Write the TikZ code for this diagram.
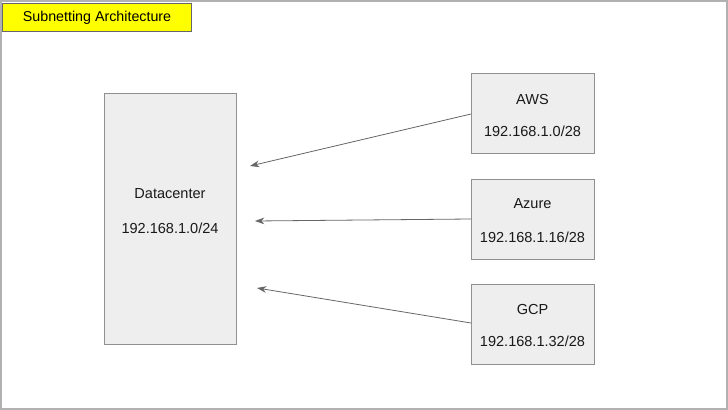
\documentclass[tikz,border=0pt]{standalone}
\usepackage{fontspec}
\setmainfont{Liberation Sans}
\usetikzlibrary{arrows.meta}
\definecolor{boxfill}{HTML}{EEEEEE}
\definecolor{boxline}{HTML}{909090}
\definecolor{titlefill}{HTML}{FFFF00}
\definecolor{arrowc}{HTML}{666666}
\tikzset{
  px/.style={x=0.75pt,y=-0.75pt},
  netbox/.style={draw=boxline,fill=boxfill,line width=0.8pt,inner sep=0pt,anchor=north west},
  lbl/.style={font=\fontsize{10.9}{13}\selectfont,inner sep=0pt,text=black!90},
  link/.style={draw=arrowc,line width=0.6pt,-{Stealth[length=7pt,width=5pt]}}
}
\begin{document}
\begin{tikzpicture}[px]
\useasboundingbox (0,0) rectangle (728,410);
\draw[draw=boxline!70,line width=0.8pt] (1,1) rectangle (727,409);
\node[draw=black!60,fill=titlefill,line width=0.8pt,anchor=north west,minimum width=189*0.75pt,minimum height=28*0.75pt,inner sep=0pt,font=\fontsize{10.7}{13}\selectfont] (title) at (2,3) {Subnetting Architecture};
\node[netbox,minimum width=132*0.75pt,minimum height=251*0.75pt] (dc) at (104,93) {};
\node[lbl] (dcname) at (170,194) {Datacenter};
\node[lbl] (dcip) at (170,228) {192.168.1.0/24};
\node[netbox,minimum width=123*0.75pt,minimum height=80*0.75pt] (aws) at (471,73) {};
\node[lbl] (awsname) at (532.5,99) {AWS};
\node[lbl] (awsip) at (532.5,131) {192.168.1.0/28};
\node[netbox,minimum width=123*0.75pt,minimum height=80*0.75pt] (azure) at (471,179) {};
\node[lbl] (azname) at (532.5,204) {Azure};
\node[lbl] (azip) at (532.5,237) {192.168.1.16/28};
\node[netbox,minimum width=123*0.75pt,minimum height=80*0.75pt] (gcp) at (471,284) {};
\node[lbl] (gcpname) at (532.5,309) {GCP};
\node[lbl] (gcpip) at (532.5,341) {192.168.1.32/28};
\coordinate (t1) at (250,166);
\coordinate (t2) at (255,221);
\coordinate (t3) at (257,288);
\draw[link] (aws.west |- 0,114) -- (t1);
\draw[link] (azure.west |- 0,219) -- (t2);
\draw[link] (gcp.west |- 0,323) -- (t3);
\end{tikzpicture}
\end{document}
